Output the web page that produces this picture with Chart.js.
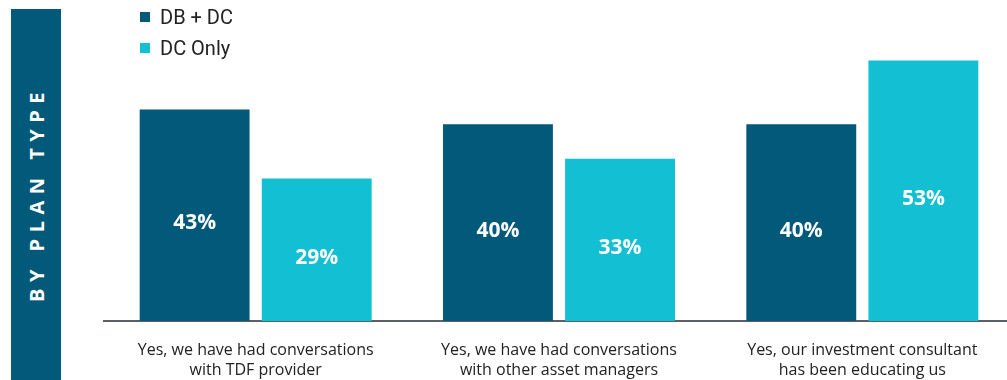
<!DOCTYPE html>
<html>
<head>
<meta charset="utf-8">
<script src="https://cdn.jsdelivr.net/npm/chart.js@4.4.1/dist/chart.umd.min.js"></script>
<style>
  html, body { margin: 0; padding: 0; background: #fff; overflow: hidden; }
  #wrap { position: relative; width: 1007px; height: 380px; overflow: hidden; }
  #chartBox { position: absolute; left: 0; top: 0; width: 1014px; height: 380px; }
  #sideBar {
    position: absolute; left: 11px; top: 9px; width: 50px; height: 371px;
    background: #02597a;
  }
  #sideBar span {
    position: absolute; left: 25px; top: 185px;
    transform: translate(-50%, -50%) rotate(-90deg);
    white-space: nowrap; color: #fff;
    font: bold 20px "Open Sans", sans-serif; letter-spacing: 6.5px;
  }
  #legend { position: absolute; left: 140px; top: 3px; font: 20px Roboto, sans-serif; color: #222; }
  #legend div { height: 31px; line-height: 28px; }
  #legend i { display: inline-block; width: 10px; height: 10px; margin-right: 10px; vertical-align: 2px; }
</style>
</head>
<body>
<div id="wrap">
  <div id="chartBox"><canvas id="planChart"></canvas></div>
  <div id="sideBar"><span>BY PLAN TYPE</span></div>
  <div id="legend"></div>
</div>
<script>
// ---- data ----
const categories = [
    ['Yes, we have had conversations', 'with TDF provider'],
    ['Yes, we have had conversations', 'with other asset managers'],
    ['Yes, our investment consultant', 'has been educating us']
];
const seriesNames = ['DB + DC', 'DC Only'];
const dbDcValues = [43, 40, 40];
const dcOnlyValues = [29, 33, 53];
const seriesColors = ['#02597a', '#12bfd3'];

// legend built by hand (stacked vertically, top left)
const legendEl = document.getElementById('legend');
seriesNames.forEach((name, i) => {
    legendEl.innerHTML += `<div><i style="background:${seriesColors[i]}"></i>${name}</div>`;
});

// white % labels inside each bar
const barLabels = {
    id: 'barLabels',
    afterDatasetsDraw(chart) {
        const ctx = chart.ctx;
        ctx.save();
        ctx.fillStyle = '#ffffff';
        ctx.font = 'bold 21px "Open Sans", sans-serif';
        ctx.textAlign = 'center';
        ctx.textBaseline = 'middle';
        chart.data.datasets.forEach((ds, di) => {
            chart.getDatasetMeta(di).data.forEach((bar, i) => {
                const mid = (bar.y + bar.base) / 2 + 8;
                ctx.fillText(ds.data[i] + '%', bar.x, mid);
            });
        });
        ctx.restore();
    }
};

const ctx = document.getElementById('planChart').getContext('2d');
new Chart(ctx, {
    type: 'bar',
    data: {
        labels: categories,
        datasets: [
            {
                label: seriesNames[0],
                data: dbDcValues,
                backgroundColor: seriesColors[0],
                categoryPercentage: 0.805,
                barPercentage: 0.9
            },
            {
                label: seriesNames[1],
                data: dcOnlyValues,
                backgroundColor: seriesColors[1],
                categoryPercentage: 0.805,
                barPercentage: 0.9
            }
        ]
    },
    options: {
        responsive: true,
        maintainAspectRatio: false,
        animation: false,
        layout: { padding: { left: 104, top: 26, right: 0, bottom: 0 } },
        plugins: {
            legend: { display: false },
            tooltip: { enabled: false }
        },
        scales: {
            x: {
                grid: { display: false },
                border: { display: true, color: '#5b5f66', width: 2 },
                ticks: {
                    color: '#222',
                    padding: 11,
                    maxRotation: 0,
                    autoSkip: false,
                    font: { family: 'Open Sans', size: 16, lineHeight: 1.25 }
                },
                afterFit: function(scale) { scale.height = 59; }
            },
            y: {
                display: false,
                min: 0,
                max: 60
            }
        }
    },
    plugins: [barLabels]
});
</script>
</body>
</html>
